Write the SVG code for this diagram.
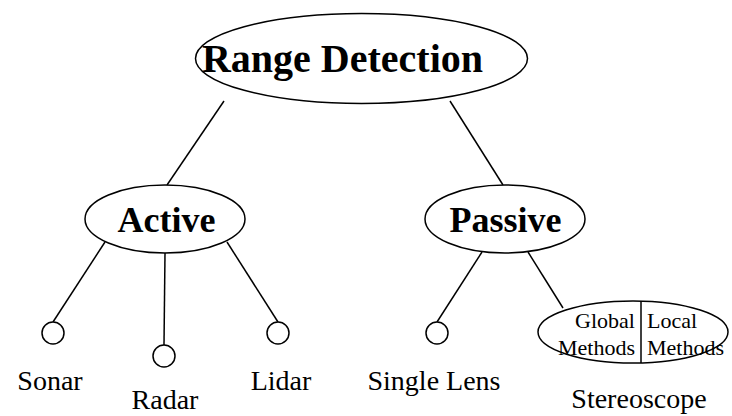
<svg xmlns="http://www.w3.org/2000/svg" width="732" height="416" viewBox="0 0 732 416">
  <style>
    .shape { fill: #fff; stroke: #000; stroke-width: 1.5; }
    .edge { fill: none; stroke: #000; stroke-width: 1.5; }
    .head { font-family: "Liberation Serif", "Times New Roman", serif; font-weight: bold; fill: #000; text-anchor: middle; }
    .label { font-family: "Liberation Serif", "Times New Roman", serif; font-size: 28px; fill: #000; text-anchor: middle; }
    .method { font-family: "Liberation Serif", "Times New Roman", serif; font-size: 22px; fill: #000; }
  </style>
  <rect width="732" height="416" fill="#fff"/>

  <!-- tree edges -->
  <g id="connectors">
    <line class="edge" x1="224" y1="101" x2="167" y2="185"/>
    <line class="edge" x1="450" y1="101" x2="503" y2="185"/>
    <line class="edge" x1="105" y1="242" x2="53" y2="322"/>
    <line class="edge" x1="165" y1="253" x2="164" y2="345"/>
    <line class="edge" x1="227" y1="242" x2="278" y2="322"/>
    <line class="edge" x1="482" y1="252" x2="437" y2="322"/>
    <line class="edge" x1="528" y1="252" x2="563" y2="308"/>
  </g>

  <g id="range-detection">
    <ellipse class="shape" cx="361.5" cy="58.5" rx="166" ry="45"/>
    <text class="head" x="342.5" y="72" font-size="40">Range Detection</text>
  </g>

  <g id="active">
    <ellipse class="shape" cx="165" cy="219" rx="80" ry="34"/>
    <text class="head" x="166.5" y="232" font-size="36">Active</text>
  </g>

  <g id="passive">
    <ellipse class="shape" cx="505" cy="219" rx="80" ry="34"/>
    <text class="head" x="505.5" y="232" font-size="36">Passive</text>
  </g>

  <g id="sonar">
    <circle class="shape" cx="53" cy="333" r="11"/>
    <text class="label" x="50" y="390">Sonar</text>
  </g>

  <g id="radar">
    <circle class="shape" cx="164" cy="356" r="11"/>
    <text class="label" x="165" y="409">Radar</text>
  </g>

  <g id="lidar">
    <circle class="shape" cx="278" cy="333" r="11"/>
    <text class="label" x="281" y="390">Lidar</text>
  </g>

  <g id="single-lens">
    <circle class="shape" cx="437" cy="333" r="11"/>
    <text class="label" x="434" y="390">Single Lens</text>
  </g>

  <g id="stereoscope">
    <ellipse class="shape" cx="633" cy="332" rx="95" ry="31"/>
    <line class="edge" x1="641" y1="301" x2="641" y2="363"/>
    <text class="method" x="635" y="328" text-anchor="end">Global</text>
    <text class="method" x="635" y="355" text-anchor="end">Methods</text>
    <text class="method" x="647" y="328">Local</text>
    <text class="method" x="647" y="355">Methods</text>
    <text class="label" x="639" y="408">Stereoscope</text>
  </g>
</svg>
